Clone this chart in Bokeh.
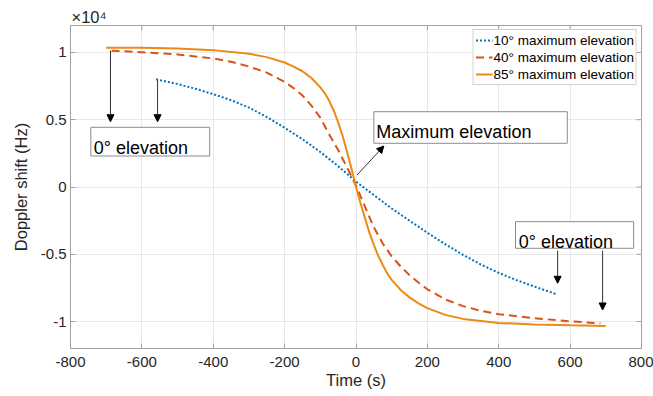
from bokeh.plotting import figure
from bokeh.models import (FixedTicker, Legend, LegendItem, Arrow, NormalHead,
                          Label, BoxAnnotation, Range1d, Title)
from bokeh.embed import file_html
from bokeh.resources import INLINE

# ---------------- data ----------------
t_10 = [-560, -500, -450, -400, -350, -300, -250, -200, -150, -100, -50, 0,
        50, 100, 150, 200, 250, 300, 350, 400, 450, 500, 560]
f_10 = [8000, 7650, 7300, 6900, 6450, 5900, 5200, 4400, 3550, 2600, 1550, 400,
        -600, -1600, -2500, -3400, -4250, -5040, -5760, -6380, -6920, -7400, -7950]

t_40 = [-685, -600, -500, -400, -350, -300, -250, -200, -175, -150, -125, -100,
        -75, -50, -25, 0, 25, 50, 75, 100, 125, 150, 175, 200, 250, 300, 350,
        400, 500, 600, 685]
f_40 = [10130, 10020, 9850, 9550, 9300, 8950, 8500, 7800, 7350, 6800, 6050,
        5150, 3900, 2750, 1450, 100, -1450, -3000, -4200, -5150, -5900, -6550,
        -7100, -7600, -8350, -8850, -9200, -9450, -9750, -9980, -10130]

t_85 = [-700, -600, -500, -400, -300, -250, -200, -175, -150, -125, -100, -87,
        -75, -62, -50, -37, -25, -12, 0, 12, 25, 37, 50, 62, 75, 87, 100, 125,
        150, 175, 200, 250, 300, 400, 500, 600, 700]
f_85 = [10350, 10350, 10300, 10170, 9900, 9650, 9250, 8950, 8600, 8100, 7400,
        6950, 6400, 5650, 4800, 3750, 2600, 1300, 0, -1150, -2300, -3350, -4300,
        -5100, -5800, -6400, -6900, -7650, -8200, -8650, -9000, -9500, -9800,
        -10100, -10220, -10280, -10330]

series_labels = ["10° maximum elevation", "40° maximum elevation",
                 "85° maximum elevation"]

x_ticks = [-800, -600, -400, -200, 0, 200, 400, 600, 800]
x_tick_labels = ["-800", "-600", "-400", "-200", "0", "200", "400", "600", "800"]
y_ticks = [-10000, -5000, 0, 5000, 10000]
y_tick_labels = ["-1", "-0.5", "0", "0.5", "1"]
x_lim = (-800, 800)
y_lim = (-12000, 12000)

# annotation texts and anchor positions (data units)
note_texts = ["0° elevation", "Maximum elevation", "0° elevation"]
note_x = [-735, 57, 456]
note_y = [2875, 4108, -4064]
box_left = [-743, 50, 447]
box_right = [-410, 592, 778]
box_top = [4435, 5594, -2578]
box_bottom = [2303, 3247, -4554]
arrow_x0 = [-688, -556, 3, 565, 691]
arrow_y0 = [10130, 7950, 892, -4733, -4733]
arrow_x1 = [-688, -556, 78, 565, 691]
arrow_y1 = [4851, 4851, 3046, -7155, -9138]

FONT = "Liberation Sans"
AX_COL = "#a0a0a0"
TXT_COL = "#262626"
W, H = 653, 396
BL, BR, BT, BB = 70, 12, 25, 48

p = figure(width=W, height=H, output_backend="svg", toolbar_location=None,
           x_range=Range1d(*x_lim), y_range=Range1d(*y_lim),
           min_border_left=BL, min_border_right=BR, min_border_top=BT,
           min_border_bottom=BB)
p.background_fill_color = "white"
p.border_fill_color = "white"
p.outline_line_color = AX_COL
p.outline_line_width = 1

r1 = p.line(t_10, f_10, line_color="#0072BD", line_width=2, line_dash="2 2")
r2 = p.line(t_40, f_40, line_color="#D95319", line_width=2, line_dash="8 5")
r3 = p.line(t_85, f_85, line_color="#EC8A14", line_width=2)

# axes
p.xaxis.ticker = FixedTicker(ticks=x_ticks)
p.yaxis.ticker = FixedTicker(ticks=y_ticks)
p.xaxis.major_label_overrides = {k: v for k, v in zip(x_ticks, x_tick_labels)}
p.yaxis.major_label_overrides = {k: v for k, v in zip(y_ticks, y_tick_labels)}
p.xaxis.axis_label = "Time (s)"
p.yaxis.axis_label = "Doppler shift (Hz)"
for ax in (p.xaxis[0], p.yaxis[0]):
    ax.axis_line_color = AX_COL
    ax.major_tick_line_color = AX_COL
    ax.major_tick_in = 5
    ax.major_tick_out = 0
    ax.minor_tick_line_color = None
    ax.major_label_text_font = FONT
    ax.major_label_text_font_size = "15px"
    ax.major_label_text_color = TXT_COL
    ax.axis_label_text_font = FONT
    ax.axis_label_text_font_size = "16.5px"
    ax.axis_label_text_font_style = "normal"
    ax.axis_label_text_color = TXT_COL
p.xaxis.major_label_standoff = 8
p.xaxis.axis_label_standoff = 1
p.yaxis.major_label_standoff = 4
p.yaxis.axis_label_standoff = 8

# mirrored inward ticks on the top and right edges of the box (5 px long)
fw, fh = W - BL - BR, H - BT - BB
dy = 5 * (y_lim[1] - y_lim[0]) / fh
dx = 5 * (x_lim[1] - x_lim[0]) / fw
p.segment(x0=x_ticks, y0=[y_lim[1]] * len(x_ticks), x1=x_ticks,
          y1=[y_lim[1] - dy] * len(x_ticks), line_color=AX_COL, line_width=1)
p.segment(x0=[x_lim[1]] * len(y_ticks), y0=y_ticks, x1=[x_lim[1] - dx] * len(y_ticks),
          y1=y_ticks, line_color=AX_COL, line_width=1)

p.grid.grid_line_color = "#e8e8e8"
p.grid.grid_line_width = 1

# x10^4 exponent as a left-aligned title above the box
p.add_layout(Title(text="×10⁴", align="left", offset=1, standoff=0,
                   text_font=FONT, text_font_size="16.5px", text_font_style="normal",
                   text_color=TXT_COL), "above")

# annotation boxes and texts
for i in range(len(note_texts)):
    p.add_layout(BoxAnnotation(left=box_left[i], right=box_right[i], top=box_top[i],
                               bottom=box_bottom[i], fill_color="white", fill_alpha=1,
                               line_color="#8c8c8c", line_alpha=1, line_width=1,
                               level="overlay"))
    p.add_layout(Label(x=note_x[i], y=note_y[i], text=note_texts[i], text_font=FONT,
                       text_font_size="18px", text_color="black",
                       text_baseline="alphabetic", level="overlay"))

for i in range(len(arrow_x0)):
    p.add_layout(Arrow(x_start=arrow_x0[i], y_start=arrow_y0[i], x_end=arrow_x1[i],
                       y_end=arrow_y1[i], line_color="#333333", line_width=1,
                       end=NormalHead(size=7, fill_color="black", line_color="black")))

legend = Legend(items=[LegendItem(label=series_labels[0], renderers=[r1]),
                       LegendItem(label=series_labels[1], renderers=[r2]),
                       LegendItem(label=series_labels[2], renderers=[r3])],
                location="top_right")
legend.label_text_font = FONT
legend.label_text_font_size = "13.5px"
legend.label_text_color = "black"
legend.glyph_width = 17
legend.glyph_height = 16
legend.label_height = 16
legend.label_standoff = 1
legend.spacing = 1
legend.padding = 2
legend.margin = 4
legend.border_line_color = "#a6a6a6"
legend.border_line_width = 1
legend.background_fill_alpha = 1
p.add_layout(legend)

open("out.html", "w").write(file_html(p, INLINE))
